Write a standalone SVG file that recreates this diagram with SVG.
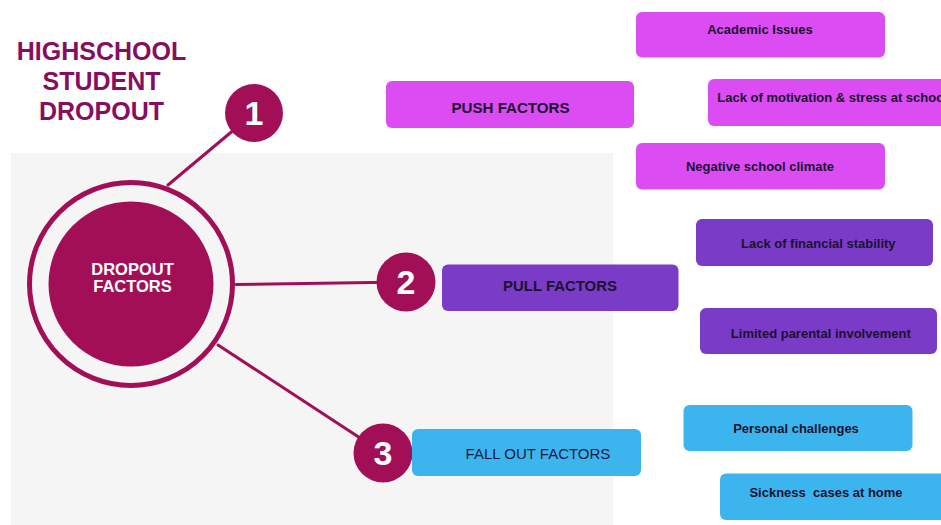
<svg xmlns="http://www.w3.org/2000/svg" width="941" height="525" viewBox="0 0 941 525">
  <style>
    .title { font-family: "Liberation Sans", Arial, sans-serif; font-weight: 700; font-size: 25px; fill: #870e5e; text-anchor: middle; }
    .hub-text { font-family: "Liberation Sans", Arial, sans-serif; font-weight: 700; font-size: 16.5px; fill: #ffffff; text-anchor: middle; }
    .badge { fill: #a20f57; }
    .badge-num { font-family: "Liberation Sans", Arial, sans-serif; font-weight: 700; font-size: 34px; fill: #ffffff; text-anchor: middle; }
    .link { stroke: #a20f57; stroke-width: 3; fill: none; stroke-linecap: round; }
    .push { fill: #db4cf3; }
    .pull { fill: #7a3bc6; }
    .fall { fill: #3cb5ee; }
    .head { font-family: "Liberation Sans", Arial, sans-serif; font-weight: 700; font-size: 14.5px; fill: #1c1230; text-anchor: middle; }
    .head-light { font-family: "Liberation Sans", Arial, sans-serif; font-weight: 400; font-size: 15px; fill: #1a1a3e; text-anchor: middle; }
    .item { font-family: "Liberation Sans", Arial, sans-serif; font-weight: 700; font-size: 13px; fill: #1c1230; text-anchor: middle; }
  </style>

  <rect width="941" height="525" fill="#ffffff"/>

  <!-- background panel -->
  <rect id="panel" x="11" y="153" width="602" height="372" fill="#f5f5f5"/>

  <!-- heading -->
  <g id="title">
    <text class="title" x="101.5" y="60">HIGHSCHOOL</text>
    <text class="title" x="101.5" y="90">STUDENT</text>
    <text class="title" x="101.5" y="120">DROPOUT</text>
  </g>

  <!-- spokes from the hub to the numbered badges -->
  <g id="connectors">
    <line class="link" x1="168" y1="185" x2="254" y2="113"/>
    <line class="link" x1="236" y1="284.5" x2="406" y2="282"/>
    <line class="link" x1="218" y1="345" x2="383" y2="453"/>
  </g>

  <!-- central hub -->
  <g id="hub">
    <circle cx="131" cy="284" r="101.5" fill="none" stroke="#a20f57" stroke-width="5"/>
    <circle cx="131" cy="284" r="82.5" fill="#a20f57"/>
    <text class="hub-text" x="132.5" y="274.5">DROPOUT</text>
    <text class="hub-text" x="132.5" y="292">FACTORS</text>
  </g>

  <!-- numbered badges -->
  <g id="badge-1">
    <circle class="badge" cx="254" cy="113" r="29"/>
    <text class="badge-num" x="254" y="125">1</text>
  </g>
  <g id="badge-2">
    <circle class="badge" cx="406" cy="282" r="29.5"/>
    <text class="badge-num" x="406" y="294">2</text>
  </g>
  <g id="badge-3">
    <circle class="badge" cx="383" cy="453" r="29.5"/>
    <text class="badge-num" x="383" y="465">3</text>
  </g>

  <!-- push factors -->
  <g id="push-factors">
    <rect class="push" x="386" y="81" width="248" height="47" rx="6"/>
    <text class="head" x="510.5" y="112.5" textLength="118" lengthAdjust="spacingAndGlyphs">PUSH FACTORS</text>
  </g>
  <g id="academic-issues">
    <rect class="push" x="636" y="12" width="249" height="45.5" rx="6"/>
    <text class="item" x="760" y="34">Academic Issues</text>
  </g>
  <g id="lack-of-motivation">
    <rect class="push" x="708" y="79" width="245" height="47" rx="6"/>
    <text class="item" x="717.3" y="101.7" style="text-anchor:start">Lack of motivation &amp; stress at school</text>
  </g>
  <g id="negative-climate">
    <rect class="push" x="636" y="143" width="249" height="46.5" rx="6"/>
    <text class="item" x="760" y="170.7">Negative school climate</text>
  </g>

  <!-- pull factors -->
  <g id="pull-factors">
    <rect class="pull" x="442" y="264.5" width="236.5" height="46.5" rx="6"/>
    <text class="head" x="560" y="291" textLength="114" lengthAdjust="spacingAndGlyphs">PULL FACTORS</text>
  </g>
  <g id="financial-stability">
    <rect class="pull" x="696" y="219" width="237" height="47" rx="6"/>
    <text class="item" x="818.3" y="248.3">Lack of financial stability</text>
  </g>
  <g id="parental-involvement">
    <rect class="pull" x="700" y="308" width="237" height="46" rx="6"/>
    <text class="item" x="820.8" y="338.3">Limited parental involvement</text>
  </g>

  <!-- fall out factors -->
  <g id="fall-out-factors">
    <rect class="fall" x="412" y="429" width="229" height="47" rx="6"/>
    <text class="head-light" x="538" y="459">FALL OUT FACTORS</text>
  </g>
  <g id="personal-challenges">
    <rect class="fall" x="683.5" y="405" width="229" height="46" rx="6"/>
    <text class="item" x="796" y="433.3">Personal challenges</text>
  </g>
  <g id="sickness-at-home">
    <rect class="fall" x="720" y="473.5" width="240" height="46.5" rx="6"/>
    <text class="item" x="826" y="496.7" xml:space="preserve">Sickness  cases at home</text>
  </g>
</svg>
